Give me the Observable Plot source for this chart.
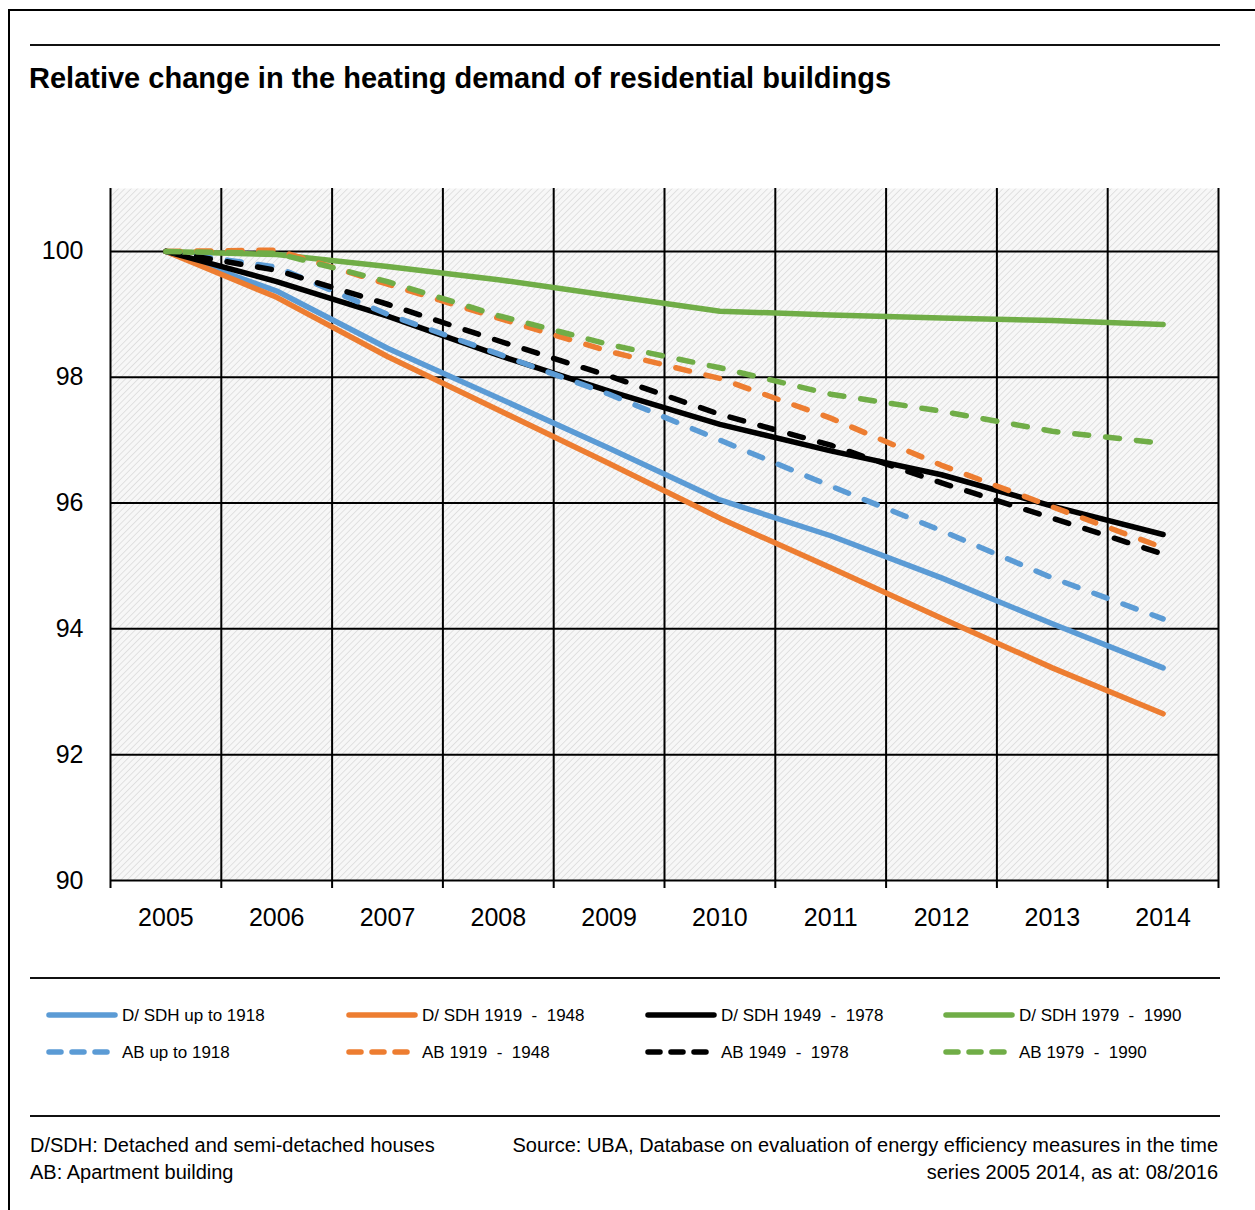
<!DOCTYPE html>
<html><head><meta charset="utf-8">
<script src="https://cdn.jsdelivr.net/npm/d3@7"></script>
<script src="https://cdn.jsdelivr.net/npm/@observablehq/plot@0.6"></script>
<style>
body{margin:0;background:#fff;width:1255px;height:1210px;position:relative;overflow:hidden;font-family:"Liberation Sans",Arial,sans-serif;}
#box{position:absolute;left:8px;top:9px;width:1400px;height:1400px;border-left:2px solid #000;border-top:2px solid #000;}
#chart{position:absolute;left:0;top:0;}
#overlay{position:absolute;left:0;top:0;}
</style></head>
<body>
<div id="box"></div>
<div id="chart"></div>
<svg id="overlay" width="1255" height="1210"></svg>
<script>
const years = [2005, 2006, 2007, 2008, 2009, 2010, 2011, 2012, 2013, 2014];
const yTicks = [90, 92, 94, 96, 98, 100];
const seriesNames = ["D/ SDH up to 1918", "D/ SDH 1919  -  1948", "D/ SDH 1949  -  1978", "D/ SDH 1979  -  1990",
                     "AB up to 1918", "AB 1919  -  1948", "AB 1949  -  1978", "AB 1979  -  1990"];
const seriesColors = ["#5B9BD5", "#ED7D31", "#000000", "#70AD47", "#5B9BD5", "#ED7D31", "#000000", "#70AD47"];
const seriesDashed = [false, false, false, false, true, true, true, true];

const dsdhUpTo1918 = [100, 99.37, 98.46, 97.67, 96.87, 96.05, 95.48, 94.81, 94.08, 93.38];
const dsdh1919_1948 = [100, 99.27, 98.33, 97.48, 96.63, 95.76, 94.97, 94.17, 93.38, 92.65];
const dsdh1949_1978 = [100, 99.52, 98.97, 98.35, 97.78, 97.25, 96.83, 96.45, 95.95, 95.5];
const dsdh1979_1990 = [100, 99.95, 99.76, 99.55, 99.3, 99.05, 98.99, 98.94, 98.9, 98.84];
const abUpTo1918 = [100, 99.75, 99.0, 98.37, 97.73, 97.0, 96.27, 95.56, 94.81, 94.16];
const ab1919_1948 = [100, 100.02, 99.48, 98.94, 98.41, 97.98, 97.35, 96.6, 95.94, 95.29];
const ab1949_1978 = [100, 99.7, 99.16, 98.58, 98.02, 97.41, 96.92, 96.32, 95.76, 95.19];
const ab1979_1990 = [100, 99.97, 99.52, 98.98, 98.52, 98.15, 97.73, 97.46, 97.14, 96.95];

const seriesValues = [dsdhUpTo1918, dsdh1919_1948, dsdh1949_1978, dsdh1979_1990,
                      abUpTo1918, ab1919_1948, ab1949_1978, ab1979_1990];

const bounds = [years[0] - 0.5, ...years.map(y => y + 0.5)];

const lineMarks = seriesValues.map((vals, i) => Plot.line(
  years.map((yr, j) => ({year: yr, value: vals[j]})),
  {x: "year", y: "value", stroke: seriesColors[i], strokeWidth: 5.5,
   strokeDasharray: seriesDashed[i] ? "14,17" : null,
   strokeLinecap: "round", strokeLinejoin: "round"}
));

const chart = Plot.plot({
  width: 1255, height: 960,
  marginLeft: 110, marginRight: 37, marginTop: 188, marginBottom: 80,
  style: {fontFamily: '"Liberation Sans", Arial, sans-serif', color: "#000", background: "transparent", overflow: "visible"},
  x: {domain: [bounds[0], bounds[bounds.length - 1]], label: null},
  y: {domain: [90, 101], label: null},
  marks: [
    Plot.frame({fill: "url(#hatch)", stroke: "none"}),
    Plot.gridY(yTicks, {stroke: "#000", strokeOpacity: 1, strokeWidth: 2}),
    Plot.gridX(bounds, {stroke: "#000", strokeOpacity: 1, strokeWidth: 2}),
    Plot.axisX({ticks: bounds, tickSize: 8, tickFormat: () => "", stroke: "#000", strokeWidth: 2, label: null}),
    Plot.axisX({ticks: years, tickSize: 0, tickPadding: 28, fontSize: 25, tickFormat: d => String(d), label: null}),
    Plot.axisY({ticks: yTicks, tickSize: 0, tickPadding: 27, fontSize: 25, tickFormat: d => String(d), label: null}),
    ...lineMarks
  ]
});
d3.select(chart).insert("defs", ":first-child").html(
  '<pattern id="hatch" width="4.5" height="4.5" patternUnits="userSpaceOnUse" patternTransform="rotate(45)">' +
  '<rect width="4.5" height="4.5" fill="#f7f7f7"/><line x1="0" y1="0" x2="0" y2="4.5" stroke="#d9d9d9" stroke-width="1.5"/></pattern>');
document.getElementById("chart").appendChild(chart);

// overlay: title, rules, legend, notes
const ov = d3.select("#overlay");
const narrow = '"Liberation Sans Narrow", "Arial Narrow", "Liberation Sans", sans-serif';
[45, 978, 1116].forEach(y => ov.append("line").attr("x1", 30).attr("x2", 1220).attr("y1", y).attr("y2", y)
  .attr("stroke", "#111").attr("stroke-width", 2));
ov.append("text").attr("x", 29).attr("y", 88).attr("font-family", narrow).attr("font-weight", "bold")
  .attr("font-size", 29).attr("fill", "#000").text("Relative change in the heating demand of residential buildings");

const legCols = [47, 347, 646, 944];
seriesNames.forEach((name, i) => {
  const col = legCols[i % 4];
  const y = seriesDashed[i] ? 1052 : 1015;
  ov.append("line").attr("x1", col + 2).attr("x2", seriesDashed[i] ? col + 61 : col + 68)
    .attr("y1", y).attr("y2", y).attr("stroke", seriesColors[i]).attr("stroke-width", 5.5)
    .attr("stroke-linecap", "round").attr("stroke-dasharray", seriesDashed[i] ? "12,11" : null);
  ov.append("text").attr("x", col + 75).attr("y", y + 6).attr("font-family", narrow).attr("font-size", 17)
    .attr("fill", "#000").style("white-space", "pre").attr("xml:space", "preserve").text(name);
});
const notesL = ["D/SDH: Detached and semi-detached houses", "AB: Apartment building"];
const notesR = ["Source: UBA, Database on evaluation of energy efficiency measures in the time", "series 2005 2014, as at: 08/2016"];
notesL.forEach((t, i) => ov.append("text").attr("x", 30).attr("y", 1152 + i * 27).attr("font-family", narrow)
  .attr("font-size", 20).attr("fill", "#000").text(t));
notesR.forEach((t, i) => ov.append("text").attr("x", 1218).attr("y", 1152 + i * 27).attr("text-anchor", "end")
  .attr("font-family", narrow).attr("font-size", 20).attr("fill", "#000").text(t));
</script>
</body></html>
